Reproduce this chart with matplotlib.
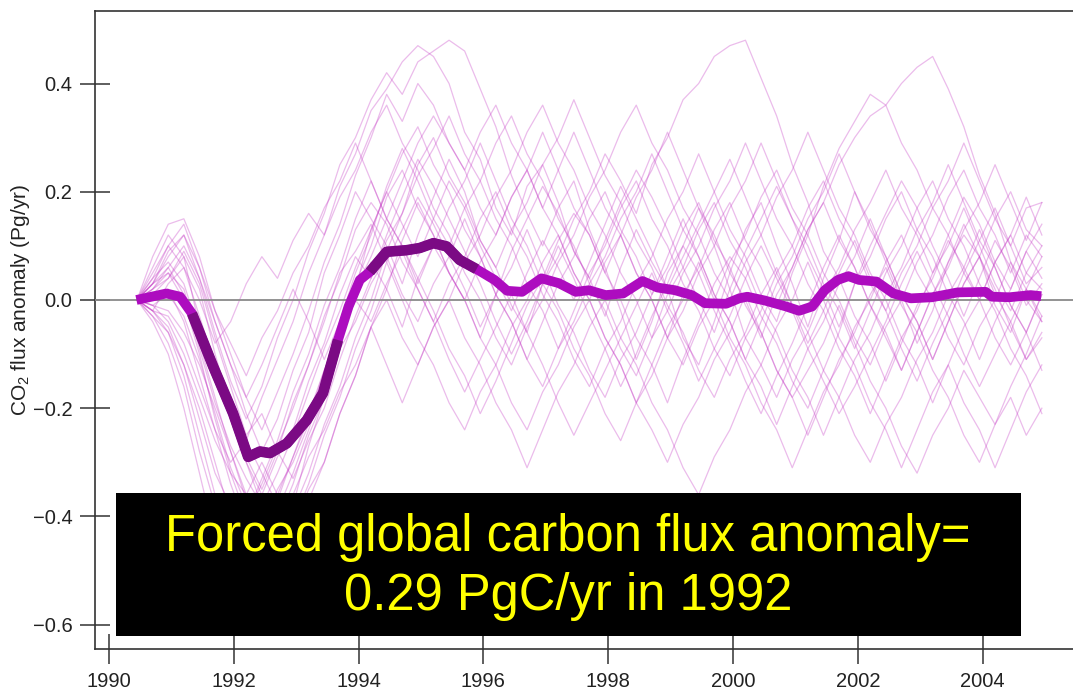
import numpy as np
import matplotlib.pyplot as plt
from matplotlib.patches import Rectangle

plt.rcParams['font.family'] = ['Liberation Sans', 'DejaVu Sans']
plt.rcParams['mathtext.default'] = 'regular'

# ensemble mean flux anomaly (Pg/yr)
mean_years = [1990.44, 1990.92, 1991.14, 1991.33, 1991.67, 1991.99, 1992.23, 1992.42, 1992.58,
              1992.85, 1993.17, 1993.43, 1993.67, 1993.84, 1994.02, 1994.18, 1994.45, 1994.77,
              1994.98, 1995.20, 1995.41, 1995.62, 1995.89, 1996.18, 1996.38, 1996.62, 1996.93,
              1997.21, 1997.48, 1997.69, 1997.96, 1998.24, 1998.55, 1998.79, 1999.07, 1999.34,
              1999.55, 1999.89, 2000.10, 2000.23, 2000.51, 2000.85, 2001.06, 2001.27, 2001.47,
              2001.68, 2001.85, 2002.02, 2002.30, 2002.57, 2002.85, 2003.19, 2003.60, 2004.05,
              2004.15, 2004.43, 2004.77, 2004.94]
mean_flux = [0.000, 0.012, 0.006, -0.025, -0.123, -0.210, -0.290, -0.280, -0.283,
             -0.265, -0.222, -0.172, -0.074, -0.012, 0.037, 0.052, 0.089, 0.092,
             0.096, 0.105, 0.099, 0.074, 0.057, 0.037, 0.017, 0.015, 0.040,
             0.031, 0.015, 0.018, 0.009, 0.012, 0.035, 0.023, 0.018, 0.009,
             -0.006, -0.007, 0.003, 0.006, -0.001, -0.012, -0.020, -0.012, 0.018,
             0.037, 0.044, 0.037, 0.034, 0.012, 0.003, 0.005, 0.014, 0.015,
             0.006, 0.005, 0.009, 0.007]
# periods where the mean anomaly is significant
dark_spans = [(1991.33, 1993.67), (1994.18, 1995.89)]

# individual ensemble runs, quarter-year steps from 1990.45, in 0.01 Pg/yr
run_start = 1990.45
run_step = 0.25
run01 = [0, 6, 12, 8, -5, -14, -20, -26, -18, -11, -4, 5, 12, 21, 27, 35, 39, 44, 47, 45, 40,
         31, 26, 17, 12, 21, 25, 18, 9, 4, -3, 6, 13, 7, 2, -7, -12, -4, 5, 13, 18,
         10, 3, -5, 4, 11, 20, 14, 7, 0, -8, -2, 7, 12, 8, -1, -6, 2, 8]
run02 = [0, -2, -6, -14, -25, -36, -44, -50, -46, -39, -32, -24, -15, -7, 2, 8, 15, 10, 4, -2, -9,
         -14, -21, -15, -8, -1, 4, 11, 16, 12, 5, 0, -7, -12, -19, -11, -4, 3, 8, 4, -3,
         -8, -15, -20, -13, -6, 3, 8, 15, 20, 13, 8, 1, -4, -11, -4, 2, 9, 4]
run03 = [0, 4, 10, 14, 6, -4, -12, -21, -28, -22, -13, -6, 5, 12, 20, 15, 10, 3, 12, 19, 26,
         20, 11, 6, -1, -6, 3, 8, 15, 20, 27, 22, 16, 25, 30, 37, 40, 45, 47, 48, 41,
         34, 25, 18, 9, 4, -3, -8, -15, -8, -1, 4, 11, 6, 0, -7, -12, -6, 1]
run04 = [0, 3, 8, 12, 4, -6, -15, -22, -16, -7, 0, 9, 16, 25, 30, 37, 42, 38, 44, 46, 48,
         46, 39, 32, 23, 16, 10, 17, 22, 13, 6, -2, -11, -4, 5, 10, 17, 10, 2, -7, -12,
         -18, -11, -6, 1, 6, 13, 18, 24, 17, 12, 5, 12, 19, 14, 7, 2, 9, 14]
run05 = [0, -3, -8, -16, -28, -38, -46, -40, -34, -27, -20, -12, -3, 4, 13, 18, 14, 7, 2, -4, 3,
         8, 15, 20, 13, 8, 1, -4, -11, -16, -9, -4, 3, 8, 15, 20, 27, 20, 13, 8, 1,
         -4, 5, 12, 21, 28, 33, 38, 36, 40, 43, 45, 39, 32, 23, 16, 7, 2, -4]
run06 = [0, 2, 5, 2, -8, -18, -28, -37, -42, -35, -30, -23, -16, -7, 0, 7, 2, -5, 4, 10, 5,
         0, -7, -12, -19, -24, -17, -12, -5, 0, -7, -12, -19, -24, -30, -23, -18, -11, -6, 1, -6,
         -13, -18, -13, -8, -1, -8, -15, -20, -27, -32, -25, -20, -13, -18, -23, -16, -10, -3]
run07 = [0, -4, -10, -20, -32, -44, -54, -60, -56, -49, -44, -37, -30, -21, -14, -5, 2, 11, 18, 12, 5,
         0, 7, 12, 19, 24, 31, 24, 17, 12, 5, 12, 19, 24, 31, 24, 17, 12, 5, 0, -7,
         1, 6, 13, 18, 11, 6, -1, -6, -13, -6, 1, 6, 13, 18, 25, 18, 11, 18]
run08 = [0, 8, 14, 15, 8, -2, -10, -18, -12, -5, 2, -4, -11, -4, 5, 12, 21, 28, 22, 15, 10,
         17, 22, 29, 34, 27, 22, 15, 10, 3, -2, -9, -14, -7, -2, 5, 10, 17, 22, 29, 22,
         15, 10, 3, -2, -9, -14, -21, -14, -7, -2, 5, 10, 17, 10, 3, -2, 5, 10]
run09 = [0, -1, -4, -10, -18, -26, -32, -36, -30, -36, -29, -22, -13, -6, 3, 10, 19, 24, 17, 12, 5,
         0, -7, 1, 6, 13, 6, -1, -6, -13, -18, -11, -6, 1, 6, 13, 18, 11, 6, -1, -6,
         -13, -18, -25, -18, -11, -6, 1, 6, -1, -6, -13, -18, -25, -30, -23, -18, -25, -20]
run10 = [0, 5, 10, 6, 0, -8, -4, 3, 8, 4, 11, 16, 12, 19, 24, 31, 36, 29, 24, 17, 12,
         5, 0, -7, -12, -5, 0, 7, 12, 19, 24, 31, 36, 29, 24, 17, 12, 5, 0, 7, 12,
         19, 24, 31, 24, 17, 12, 5, 0, -7, -12, -19, -12, -5, 0, 7, 12, 19, 12]
run11 = [0, -2, -3, -8, -16, -24, -30, -26, -32, -38, -42, -35, -30, -21, -14, -5, 0, -7, -12, -5, 0,
         7, 12, 19, 24, 31, 36, 29, 24, 17, 12, 5, 0, -7, 1, 6, 13, 18, 11, 6, -1,
         -6, -13, -18, -25, -18, -11, -6, 1, 6, 13, 18, 25, 18, 11, 6, -1, -6, -13]
run12 = [0, 1, 4, 8, 2, -10, -20, -30, -38, -44, -39, -32, -23, -16, -7, 0, 9, 16, 25, 30, 23,
         18, 11, 6, 13, 18, 25, 30, 37, 30, 23, 18, 11, 6, -1, -6, -13, -18, -11, -6, 1,
         6, -1, -6, -13, -18, -25, -30, -23, -18, -11, -6, 1, 6, 13, 6, -1, -6, 1]
run13 = [0, 2, 6, 10, 4, -4, -12, -18, -24, -17, -10, -2, 7, 14, 23, 30, 38, 33, 40, 36, 29,
         24, 17, 12, 19, 24, 17, 12, 5, 0, 7, 12, 5, 0, -7, 1, 6, 13, 18, 11, 6,
         -1, 6, 13, 18, 25, 30, 34, 36, 29, 24, 17, 12, 5, 0, 7, 12, 5, 2]
run14 = [0, -2, -5, -12, -22, -32, -38, -44, -48, -41, -36, -29, -24, -17, -12, -5, -12, -19, -12, -5, 0,
         -7, -12, -19, -24, -31, -24, -17, -12, -5, 0, -7, -12, -19, -24, -31, -36, -29, -24, -17, -12,
         -5, 0, 7, 0, -7, -12, -19, -24, -31, -24, -17, -12, -19, -24, -31, -24, -17, -12]
run15 = [0, 4, 7, 3, -6, -14, -22, -30, -36, -29, -24, -15, -8, 1, 8, 4, 11, 16, 23, 28, 34,
         27, 22, 15, 10, 3, -2, -9, -2, 5, 10, 17, 22, 15, 10, 3, -2, -9, -14, -7, -2,
         5, 10, 17, 22, 15, 10, 3, -2, 5, 10, 17, 22, 29, 22, 15, 10, 17, 18]
run16 = [0, -3, -6, -12, -20, -30, -40, -48, -52, -45, -38, -27, -18, -7, 2, 13, 20, 27, 32, 25, 20,
         13, 8, 1, -4, -11, -16, -9, -4, 3, 8, 15, 20, 27, 20, 13, 8, 1, -4, -11, -16,
         -23, -16, -9, -4, 3, 8, 15, 8, 1, -4, -11, -4, 3, 8, 1, -4, -11, -6]
run17 = [0, 3, 9, 12, 6, -2, -8, -14, -7, -2, 5, 10, 17, 22, 29, 22, 15, 22, 29, 34, 29,
         24, 31, 36, 29, 24, 17, 24, 31, 24, 17, 12, 5, 0, -7, -12, -5, 0, 7, 12, 19,
         24, 17, 12, 5, 0, -7, -12, -5, 0, 7, 12, 19, 24, 17, 12, 5, 12, 8]
run18 = [0, -1, -2, -6, -12, -20, -28, -36, -42, -48, -41, -34, -25, -18, -9, -2, 7, 0, -7, -12, -19,
         -24, -17, -12, -5, 0, 7, 12, 5, 0, -7, -12, -19, -12, -5, 0, 7, 0, -7, -12, -19,
         -24, -31, -24, -17, -12, -5, 0, 7, 12, 5, 0, -7, -12, -5, 0, 7, 0, -4]
run19 = [0, 3, 5, 0, -10, -22, -32, -40, -33, -26, -17, -10, -1, 6, 15, 22, 15, 10, 3, 10, 17,
         22, 29, 22, 15, 10, 3, -2, -9, -14, -21, -26, -19, -14, -7, -2, 5, 10, 17, 22, 29,
         22, 15, 10, 3, -2, -9, -2, 5, 10, 17, 22, 15, 10, 3, -2, -9, -14, -21]
run20 = [0, 1, 2, -4, -14, -24, -34, -42, -48, -41, -34, -25, -18, -9, -4, 3, 8, 1, -4, 3, 8,
         15, 8, 1, -4, -11, -4, 3, 8, 15, 20, 13, 8, 1, 8, 15, 8, 1, -4, -11, -4,
         3, 8, 15, 20, 27, 20, 13, 8, 1, -4, -11, -4, 3, 8, 15, 20, 13, 10]
run21 = [0, -2, 3, 6, -3, -12, -22, -29, -35, -28, -19, -12, -4, 5, 9, 14, 7, 13, 19, 14, 8,
         2, -5, 1, 9, 15, 21, 16, 9, 4, 11, 18, 24, 19, 13, 6, 0, -6, 2, 9, 15,
         21, 15, 8, 2, -5, 3, 10, 16, 22, 17, 10, 4, -3, 4, 11, 6, -1, 3]
run22 = [0, 2, 4, 9, 3, -7, -16, -25, -21, -28, -33, -26, -20, -11, -3, 4, 12, 19, 26, 21, 15,
         9, 3, -4, -10, -4, 3, 10, 4, -3, -9, -16, -10, -3, 3, 10, 5, -2, -8, -15, -21,
         -14, -8, -1, 6, 12, 6, -1, -7, -13, -6, 1, 7, 14, 8, 2, -5, -11, -7]
run23 = [0, 3, 6, 1, -9, -19, -27, -33, -38, -32, -25, -17, -9, -2, 6, 13, 20, 14, 8, 15, 22,
         17, 10, 4, -2, 5, 11, 6, 0, 7, 14, 21, 15, 9, 2, 8, 14, 20, 26, 19, 12,
         5, -1, -8, -2, 5, 11, 4, -2, -9, -15, -8, -2, 5, 11, 17, 10, 3, 6]
run24 = [0, -1, 1, -3, -11, -21, -31, -38, -44, -37, -29, -21, -13, -6, 0, -4, 3, 9, 2, -4, -11,
         -17, -11, -5, 1, -6, -12, -19, -25, -19, -13, -7, -1, 5, -2, -8, -15, -9, -3, 4, 10,
         4, -2, -9, -15, -21, -16, -10, -4, 3, 9, 3, -3, -10, -16, -10, -4, 2, -3]
runs = [run01, run02, run03, run04, run05, run06, run07, run08, run09, run10, run11, run12,
        run13, run14, run15, run16, run17, run18, run19, run20, run21, run22, run23, run24]

x_ticks = [1990, 1992, 1994, 1996, 1998, 2000, 2002, 2004]
y_ticks = [-0.6, -0.4, -0.2, 0.0, 0.2, 0.4]

fig = plt.figure(figsize=(10.73, 6.91), dpi=100)
ax = fig.add_axes([94.5 / 1073, 1 - 649 / 691, (1073 - 94.5) / 1073, 638 / 691])

for run in runs:
    yrs = run_start + run_step * np.arange(len(run))
    ax.plot(yrs, np.array(run) / 100.0, color='#c63fc6', lw=0.9, alpha=0.35, zorder=2)

ax.axhline(0, color='#8a8a8a', lw=1.3, zorder=3)

my = np.array(mean_years)
mf = np.array(mean_flux)
ax.plot(my, mf, color='#ad0cbf', lw=7, solid_capstyle='butt', solid_joinstyle='round', zorder=4)
for a, b in dark_spans:
    sel = (my >= a) & (my <= b)
    ax.plot(my[sel], mf[sel], color='#7b0a84', lw=7.6, solid_capstyle='butt',
            solid_joinstyle='round', zorder=5)

ax.set_xlim(1989.768, 1989.768 + 978.5 / 62.4)
ax.set_ylim(-0.645, 0.534)
ax.set_xticks(x_ticks)
ax.set_xticklabels([str(t) for t in x_ticks])
ax.set_yticks(y_ticks)
ax.set_yticklabels(['\u22120.6', '\u22120.4', '\u22120.2', '0.0', '0.2', '0.4'])
ax.tick_params(direction='inout', length=22, width=1.1, color='#333333',
               labelsize=14.5, labelcolor='#222222')
ax.tick_params(axis='y', pad=5)
ax.tick_params(axis='x', pad=5.5)
for side in ['left', 'bottom', 'top']:
    ax.spines[side].set_color('#333333')
    ax.spines[side].set_linewidth(1.2)
ax.spines['right'].set_visible(False)

fig.text(21 / 1073, 1 - 300 / 691, 'CO$_2$ flux anomaly (Pg/yr)', rotation=90,
         ha='center', va='center', fontsize=15, color='#222222')

# black caption box over the lower part of the plot
fig.add_artist(Rectangle((116 / 1073, 1 - 636 / 691), 905 / 1073, 143 / 691,
                         transform=fig.transFigure, facecolor='black', edgecolor='none', zorder=10))
fig.text(568 / 1073, 1 - 551 / 691, 'Forced global carbon flux anomaly=', ha='center',
         va='baseline', fontsize=36.5, color='#ffff00', zorder=11)
fig.text(568 / 1073, 1 - 610 / 691, '0.29 PgC/yr in 1992', ha='center',
         va='baseline', fontsize=36.5, color='#ffff00', zorder=11)

fig.savefig('out.png', dpi=100)
